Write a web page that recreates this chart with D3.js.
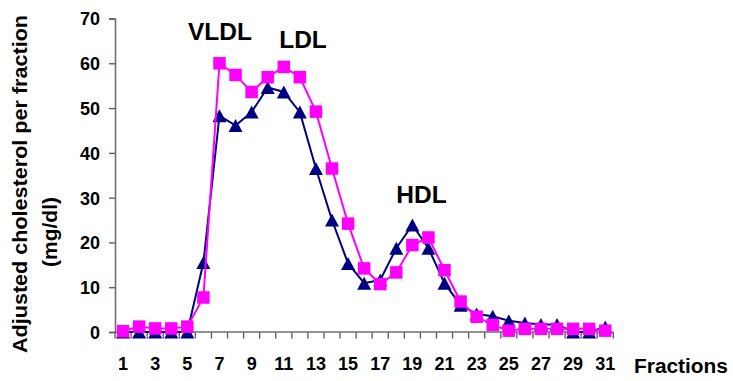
<!DOCTYPE html>
<html>
<head>
<meta charset="utf-8">
<script src="https://cdn.jsdelivr.net/npm/d3@7"></script>
<style>
  html, body { margin: 0; padding: 0; background: #fff; }
  svg { display: block; font-family: "Liberation Sans", Arial, sans-serif; font-weight: bold; }
</style>
</head>
<body>
<svg id="chart" width="733" height="381"></svg>
<script>
// Fraction numbers along the x axis
const fractions = [1,2,3,4,5,6,7,8,9,10,11,12,13,14,15,16,17,18,19,20,21,22,23,24,25,26,27,28,29,30,31];

// Adjusted cholesterol per fraction (mg/dl), navy triangles
const seriesNavy = [0,0,0,0,0,15.5,48.3,46.1,49.1,54.6,53.6,49.1,36.5,25.0,15.3,10.9,11.6,18.7,23.9,18.7,10.9,6.0,4.0,3.5,2.5,2.0,1.7,1.7,0,0,1.1];

// Adjusted cholesterol per fraction (mg/dl), magenta squares
const seriesPink = [0.2,1.2,0.8,0.8,1.2,7.7,60.0,57.4,53.6,56.9,59.2,56.9,49.2,36.5,24.2,14.2,10.7,13.3,19.4,21.1,13.8,6.8,3.4,1.6,0.3,0.7,0.7,0.7,0.7,0.7,0.3];

// Y axis ticks
const yTicks = [0,10,20,30,40,50,60,70];

// Peak annotations
const peakLabels = [
  { text: "VLDL", fraction: 7,  value: 60 },
  { text: "LDL",  fraction: 12, value: 60 },
  { text: "HDL",  fraction: 19, value: 24 }
];

const svg = d3.select("#chart");

const plot = { left: 115, right: 613.3, top: 18.5, bottom: 332 };

const x = d3.scaleBand()
  .domain(fractions)
  .range([plot.left, plot.right])
  .paddingInner(0).paddingOuter(0);

const y = d3.scaleLinear()
  .domain([0, 70])
  .range([plot.bottom, plot.top]);

const cx = d => x(d) + x.bandwidth() / 2;

// Y axis
const yAxis = svg.append("g")
  .attr("transform", `translate(${plot.left},0)`)
  .call(d3.axisLeft(y).tickValues(yTicks).tickSize(6).tickPadding(9).tickFormat(d3.format("d")));
yAxis.select(".domain").attr("stroke", "#6e6e6e").attr("stroke-width", 1.6);
yAxis.selectAll(".tick line").attr("stroke", "#555").attr("stroke-width", 1.3);
yAxis.selectAll(".tick text")
  .attr("fill", "#000").attr("font-size", "18px").attr("font-weight", "bold")
  .attr("font-family", "Liberation Sans, Arial, sans-serif")
  .attr("dy", "0.36em");

// X axis: labels at band centres (odd fractions only), ticks at band boundaries
const xAxis = svg.append("g")
  .attr("transform", `translate(0,${plot.bottom})`)
  .call(d3.axisBottom(x).tickSize(0).tickPadding(0).tickFormat(d => d % 2 === 1 ? d : ""));
xAxis.select(".domain").remove();
xAxis.selectAll(".tick text")
  .attr("fill", "#000").attr("font-size", "18px").attr("font-weight", "bold")
  .attr("font-family", "Liberation Sans, Arial, sans-serif")
  .attr("y", 37.5).attr("dy", 0);

const boundaries = fractions.map(f => x(f)).concat([x(fractions[fractions.length - 1]) + x.bandwidth()]);
xAxis.selectAll("line.bound")
  .data(boundaries)
  .join("line")
  .attr("class", "bound")
  .attr("x1", d => d).attr("x2", d => d)
  .attr("y1", 0).attr("y2", 6.5)
  .attr("stroke", "#555").attr("stroke-width", 1.3);
xAxis.append("line")
  .attr("x1", plot.left).attr("x2", plot.right)
  .attr("y1", 0).attr("y2", 0)
  .attr("stroke", "#6e6e6e").attr("stroke-width", 1.6);

// Series lines and markers
const line = d3.line()
  .x((d, i) => cx(fractions[i]))
  .y(d => y(d));

// Navy series (drawn first)
svg.append("path")
  .datum(seriesNavy)
  .attr("fill", "none")
  .attr("stroke", "#000080")
  .attr("stroke-width", 2)
  .attr("d", line);

const triW = 14, triH = 13;
svg.append("g").selectAll("path")
  .data(seriesNavy)
  .join("path")
  .attr("transform", (d, i) => `translate(${cx(fractions[i])},${y(d)})`)
  .attr("d", `M0,${-triH/2}L${triW/2},${triH/2}L${-triW/2},${triH/2}Z`)
  .attr("fill", "#000080");

// Magenta series
svg.append("path")
  .datum(seriesPink)
  .attr("fill", "none")
  .attr("stroke", "#ff00ff")
  .attr("stroke-width", 2)
  .attr("d", line);

const sq = 12.5;
svg.append("g").selectAll("rect")
  .data(seriesPink)
  .join("rect")
  .attr("x", (d, i) => cx(fractions[i]) - sq / 2)
  .attr("y", d => y(d) - sq / 2)
  .attr("width", sq).attr("height", sq)
  .attr("fill", "#ff00ff");

// Peak labels
const labelOffsets = { VLDL: [220, 40], LDL: [303, 48], HDL: [421.5, 203] };
svg.append("g").selectAll("text")
  .data(peakLabels)
  .join("text")
  .attr("x", d => labelOffsets[d.text][0])
  .attr("y", d => labelOffsets[d.text][1])
  .attr("text-anchor", "middle")
  .attr("font-size", "24.5px")
  .attr("font-weight", "bold")
  .attr("fill", "#000")
  .text(d => d.text);

// Axis titles
svg.append("text")
  .attr("transform", "translate(27.3,184) rotate(-90)")
  .attr("text-anchor", "middle")
  .attr("font-size", "21px")
  .attr("textLength", 338)
  .attr("lengthAdjust", "spacingAndGlyphs")
  .attr("fill", "#000")
  .text("Adjusted cholesterol per fraction");

svg.append("text")
  .attr("transform", "translate(57.3,232) rotate(-90)")
  .attr("text-anchor", "middle")
  .attr("font-size", "21px")
  .attr("fill", "#000")
  .text("(mg/dl)");

svg.append("text")
  .attr("x", 634)
  .attr("y", 373.3)
  .attr("font-size", "20px")
  .attr("textLength", 94)
  .attr("lengthAdjust", "spacingAndGlyphs")
  .attr("fill", "#000")
  .text("Fractions");
</script>
</body>
</html>
